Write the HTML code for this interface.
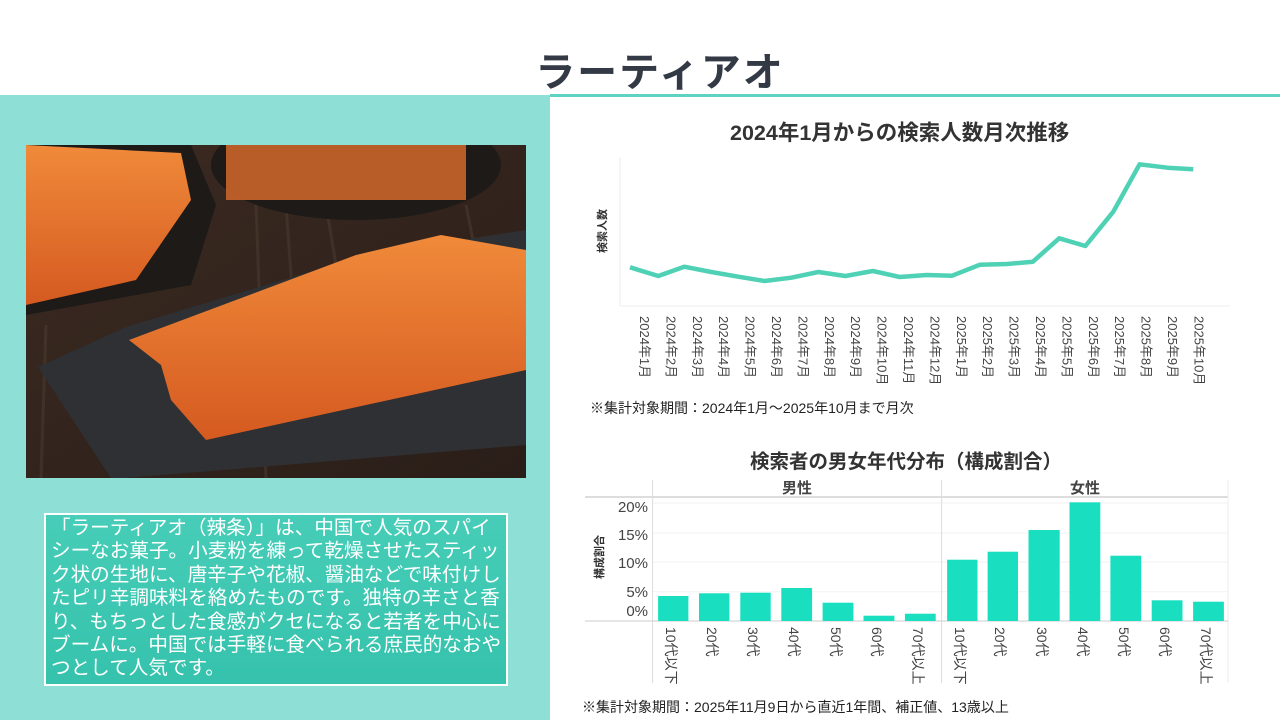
<!DOCTYPE html>
<html><head><meta charset="utf-8"><style>
*{margin:0;padding:0;box-sizing:border-box}
body{width:1280px;height:720px;overflow:hidden;background:#fff;font-family:"Liberation Sans","Noto Sans CJK JP",sans-serif;position:relative}
.t{position:absolute;white-space:nowrap}
</style></head><body>
<div class="t" style="left:0;width:1320px;top:40px;text-align:center;font-size:40px;font-weight:bold;color:#333a45;letter-spacing:2px">ラーティアオ</div>
<div style="position:absolute;left:550px;top:94px;width:730px;height:3px;background:#5fd3c2"></div>
<div style="position:absolute;left:0;top:95px;width:550px;height:625px;background:#8ee0d6"></div>
<svg style="position:absolute;left:26px;top:145px" width="500" height="333" viewBox="0 0 500 333">
<defs><linearGradient id="wd" x1="0" y1="0" x2="1" y2="1"><stop offset="0" stop-color="#3b2a22"/><stop offset="1" stop-color="#2a1e18"/></linearGradient>
<linearGradient id="or" x1="0" y1="0" x2="0" y2="1"><stop offset="0" stop-color="#f08a3a"/><stop offset="1" stop-color="#d55a20"/></linearGradient></defs>
<rect width="500" height="333" fill="url(#wd)"/>
<g stroke="#4a3a30" stroke-width="3" opacity=".6"><line x1="230" y1="60" x2="240" y2="333"/><line x1="260" y1="60" x2="270" y2="200"/><line x1="300" y1="60" x2="310" y2="120"/><line x1="20" y1="180" x2="15" y2="333"/><line x1="440" y1="60" x2="450" y2="110"/></g>
<ellipse cx="330" cy="20" rx="145" ry="55" fill="#1e1a18"/>
<rect x="200" y="0" width="240" height="55" fill="#c9652a" opacity=".9"/>
<path d="M0 0 L165 0 L190 60 L165 140 L0 170Z" fill="#1d1a18"/>
<path d="M0 0 L155 8 L165 55 L110 135 L0 160Z" fill="url(#or)"/>
<path d="M12 222 L100 182 L340 110 L500 85 L500 300 L100 333 L85 333 Z" fill="#2f3033"/>
<path d="M103 195 L330 110 L415 90 L500 105 L500 225 L180 295 L145 255 L135 220Z" fill="url(#or)"/>
</svg>
<div style="position:absolute;left:44px;top:513px;width:464px;height:173px;border:2px solid #fff;background:linear-gradient(#47cdb8,#35c2ac);color:#fff;font-size:19.6px;line-height:23.4px;padding:2px 2px 0 5px">「ラーティアオ（辣条）」は、中国で人気のスパイシーなお菓子。小麦粉を練って乾燥させたスティック状の生地に、唐辛子や花椒、醤油などで味付けしたピリ辛調味料を絡めたものです。独特の辛さと香り、もちっとした食感がクセになると若者を中心にブームに。中国では手軽に食べられる庶民的なおやつとして人気です。</div>

<div class="t" style="left:730px;top:116px;font-size:21.5px;font-weight:bold;color:#333">2024年1月からの検索人数月次推移</div>
<svg style="position:absolute;left:0;top:0" width="1280" height="720">
<line x1="620" y1="157" x2="620" y2="306" stroke="#eee"/>
<line x1="620" y1="306" x2="1230" y2="306" stroke="#eee"/>
<polyline fill="none" stroke="#4fd1b5" stroke-width="4.5" stroke-linejoin="round" points="630,267.3 658.3,276 684.2,266.7 711.3,272 738.3,276.7 764.6,281 791.3,277.7 818.3,272 845.4,276 872.9,271 899.6,277 926.7,275 952.1,275.7 980,264.7 1007,264 1032.9,261.7 1059.2,238.3 1085.4,246 1113.3,211.7 1139.6,164.3 1167.5,167.7 1193.3,169.3"/>
<text x="606" y="231" font-size="11" font-weight="bold" fill="#333" transform="rotate(-90 606 231)" text-anchor="middle">検索人数</text>
<g font-size="13" fill="#444">
<text transform="translate(640,316) rotate(90)">2024年1月</text>
<text transform="translate(666.4,316) rotate(90)">2024年2月</text>
<text transform="translate(692.8,316) rotate(90)">2024年3月</text>
<text transform="translate(719.2,316) rotate(90)">2024年4月</text>
<text transform="translate(745.6,316) rotate(90)">2024年5月</text>
<text transform="translate(772,316) rotate(90)">2024年6月</text>
<text transform="translate(798.4,316) rotate(90)">2024年7月</text>
<text transform="translate(824.8,316) rotate(90)">2024年8月</text>
<text transform="translate(851.2,316) rotate(90)">2024年9月</text>
<text transform="translate(877.6,316) rotate(90)">2024年10月</text>
<text transform="translate(904,316) rotate(90)">2024年11月</text>
<text transform="translate(930.4,316) rotate(90)">2024年12月</text>
<text transform="translate(956.8,316) rotate(90)">2025年1月</text>
<text transform="translate(983.2,316) rotate(90)">2025年2月</text>
<text transform="translate(1009.6,316) rotate(90)">2025年3月</text>
<text transform="translate(1036,316) rotate(90)">2025年4月</text>
<text transform="translate(1062.4,316) rotate(90)">2025年5月</text>
<text transform="translate(1088.8,316) rotate(90)">2025年6月</text>
<text transform="translate(1115.2,316) rotate(90)">2025年7月</text>
<text transform="translate(1141.6,316) rotate(90)">2025年8月</text>
<text transform="translate(1168,316) rotate(90)">2025年9月</text>
<text transform="translate(1194.4,316) rotate(90)">2025年10月</text>
</g>
<!-- bar chart -->
<g stroke="#f2f2f2"><line x1="652" y1="503" x2="1228" y2="503"/><line x1="652" y1="533" x2="1228" y2="533"/><line x1="652" y1="562" x2="1228" y2="562"/><line x1="652" y1="591.7" x2="1228" y2="591.7"/></g>
<line x1="585" y1="497" x2="1228" y2="497" stroke="#ddd" stroke-width="2"/>
<line x1="652.6" y1="480" x2="652.6" y2="683" stroke="#ddd"/>
<line x1="941.6" y1="480" x2="941.6" y2="683" stroke="#ddd"/>
<line x1="1228" y1="480" x2="1228" y2="683" stroke="#eee"/>
<line x1="585" y1="621" x2="1228" y2="621" stroke="#ccc"/>
<g fill="#19dfc0">
<rect x="658.1" y="596" width="30.3" height="25"/><rect x="699" y="593.3" width="30.4" height="27.7"/><rect x="740.3" y="592.7" width="30.4" height="28.3"/><rect x="781.3" y="588" width="30.8" height="33"/><rect x="822.6" y="602.7" width="30.8" height="18.3"/><rect x="863.5" y="615.7" width="30.9" height="5.3"/><rect x="904.9" y="613.7" width="30.8" height="7.3"/>
<rect x="947.1" y="559.7" width="30.4" height="61.3"/><rect x="987.6" y="551.7" width="30.4" height="69.3"/><rect x="1028.5" y="530" width="31.2" height="91"/><rect x="1069.5" y="502.3" width="30.8" height="118.7"/><rect x="1110.4" y="555.7" width="30.8" height="65.3"/><rect x="1151.7" y="600.3" width="30.8" height="20.7"/><rect x="1193.1" y="601.7" width="30.8" height="19.3"/>
</g>
<g font-size="15" fill="#444" text-anchor="end"><text x="648" y="512">20%</text><text x="648" y="540">15%</text><text x="648" y="568">10%</text><text x="648" y="597">5%</text><text x="648" y="616">0%</text></g>
<text x="603" y="557" font-size="11" font-weight="bold" fill="#333" transform="rotate(-90 603 557)" text-anchor="middle">構成割合</text>
<g font-size="15" font-weight="bold" fill="#444" text-anchor="middle"><text x="797" y="493">男性</text><text x="1085" y="493">女性</text></g>
<g font-size="14" fill="#444">
<text transform="translate(666,627) rotate(90)">10代以下</text><text transform="translate(707,627) rotate(90)">20代</text><text transform="translate(748,627) rotate(90)">30代</text><text transform="translate(789,627) rotate(90)">40代</text><text transform="translate(831,627) rotate(90)">50代</text><text transform="translate(872,627) rotate(90)">60代</text><text transform="translate(913,627) rotate(90)">70代以上</text>
<text transform="translate(955,627) rotate(90)">10代以下</text><text transform="translate(995,627) rotate(90)">20代</text><text transform="translate(1037,627) rotate(90)">30代</text><text transform="translate(1078,627) rotate(90)">40代</text><text transform="translate(1119,627) rotate(90)">50代</text><text transform="translate(1160,627) rotate(90)">60代</text><text transform="translate(1201,627) rotate(90)">70代以上</text>
</g>
</svg>
<div class="t" style="left:590px;top:398px;font-size:14px;color:#222">※集計対象期間：2024年1月～2025年10月まで月次</div>
<div class="t" style="left:750px;top:445px;font-size:19.5px;font-weight:bold;color:#333">検索者の男女年代分布（構成割合）</div>
<div class="t" style="left:582px;top:697px;font-size:14px;color:#222">※集計対象期間：2025年11月9日から直近1年間、補正値、13歳以上</div>
</body></html>
